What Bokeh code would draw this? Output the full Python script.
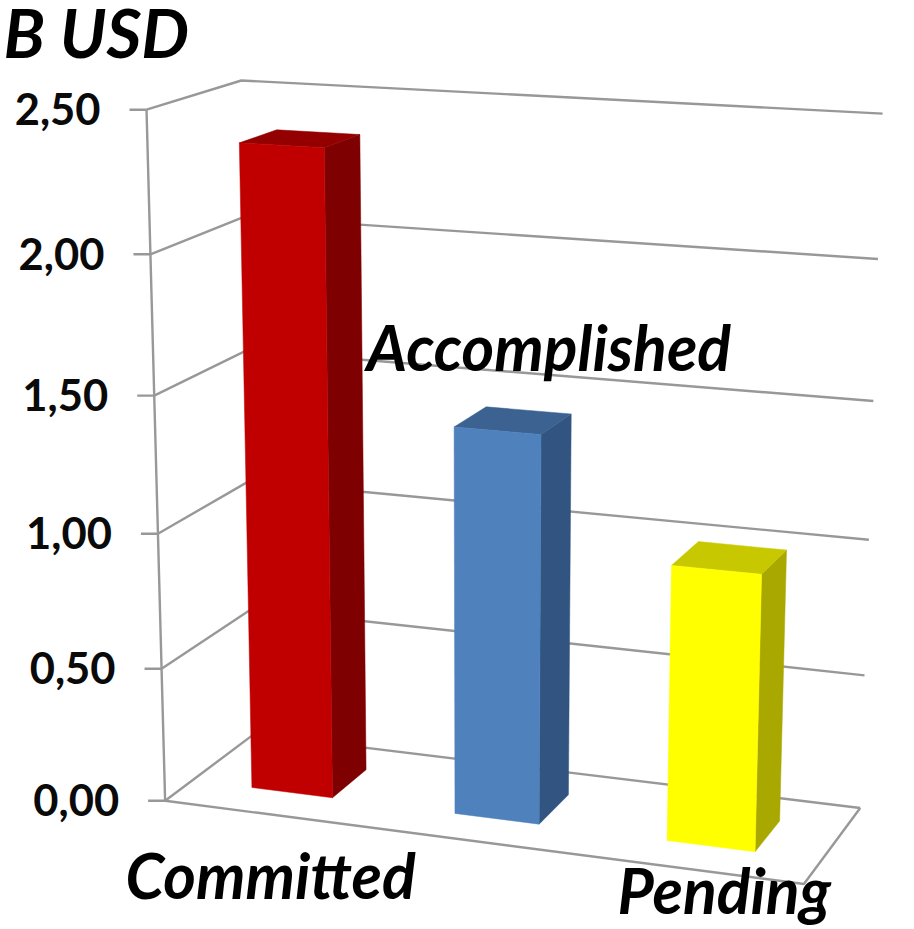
import numpy as np
from bokeh.plotting import figure
from bokeh.models import Range1d
from bokeh.core.properties import value as V
from bokeh.embed import file_html
from bokeh.resources import INLINE

categories = ["Committed", "Accomplished", "Pending"]
values = [2.365, 1.42, 1.00]
tick_values = [0.0, 0.5, 1.0, 1.5, 2.0, 2.5]
tick_labels = ["0,00", "0,50", "1,00", "1,50", "2,00", "2,50"]
front_colors = ["#C00000", "#4F81BD", "#FFFF00"]
top_colors = ["#940000", "#3B6291", "#C8C800"]
side_colors = ["#7F0000", "#325480", "#A8A800"]
title_text = "B USD"

VMAX = 2.5
# Camera: fit a projective map from (category position, depth, value) to the page
anchors = [
    ((0, 0, 0), (166, 799)), ((0, 0, 1), (145, 109)), ((0, 1, 1), (242, 80)),
    ((1, 1, 1), (882, 113)), ((1, 1, 0), (860, 806)), ((1, 0, 0), (803, 885)),
    ((0, 1, 0), (252, 735)), ((1, 1, 0.8), (877, 259)), ((1, 1, 0.4), (869, 539)),
]
A = []
for (a, b, c), (x, y) in anchors:
    A.append([a, b, c, 1, 0, 0, 0, 0, -x*a, -x*b, -x*c, -x])
    A.append([0, 0, 0, 0, a, b, c, 1, -y*a, -y*b, -y*c, -y])
H = np.linalg.svd(np.array(A, float))[2][-1].reshape(3, 4)


def project(u, d, v):
    q = H @ np.array([u, d, v / VMAX, 1.0])
    return q[0] / q[2], q[1] / q[2]


p = figure(width=914, height=929, output_backend="svg", toolbar_location=None,
           x_range=Range1d(0, 914), y_range=Range1d(929, 0), min_border=0,
           outline_line_color=None)
p.xaxis.visible = False
p.yaxis.visible = False
p.grid.visible = False

GRID = "#989898"
# Frame and gridlines
for t in tick_values:
    a, b, c = project(0, 0, t), project(0, 1, t), project(1, 1, t)
    p.line([a[0] - 17, a[0]], [a[1], a[1]], line_color=GRID, line_width=2.4)
    p.line([a[0], b[0], c[0]], [a[1], b[1], c[1]], line_color=GRID, line_width=2.4)
e0, e1 = project(0, 0, 0), project(0, 0, VMAX)
p.line([e0[0], e1[0]], [e0[1], e1[1]], line_color=GRID, line_width=2.4)
f = [project(0, 0, 0), project(1, 0, 0), project(1, 1, 0)]
p.line([q[0] for q in f], [q[1] for q in f], line_color=GRID, line_width=2.4)

# Bars
HALF_W, D0, D1 = 0.067, 0.30, 0.71
for i, val in enumerate(values):
    c = (i + 0.5) / 3
    l, r = c - HALF_W, c + HALF_W
    fb = [project(l, D0, 0), project(r, D0, 0), project(r, D0, val), project(l, D0, val)]
    tp = [project(l, D0, val), project(r, D0, val), project(r, D1, val), project(l, D1, val)]
    sd = [project(r, D0, 0), project(r, D1, 0), project(r, D1, val), project(r, D0, val)]
    for face, col in ((sd, side_colors[i]), (tp, top_colors[i]), (fb, front_colors[i])):
        p.patch([q[0] for q in face], [q[1] for q in face], fill_color=col, line_color=col, line_width=0.5)

BASE_SHIFT = 0.38  # the page sets alphabetic text this fraction of its size too low
# Tick labels
for t, lab in zip(tick_values, tick_labels):
    a = project(0, 0, t)
    p.text([a[0] - 46], [a[1] + 16 - BASE_SHIFT * 43.5], text=[lab], text_font=V("Lato"),
           text_font_style="bold", text_font_size="43.5px", text_color="#0a0a0a",
           text_align="right", text_baseline="alphabetic")

# Category labels
labels = [(categories[0], 125, 898, 62.5), (categories[1], 366, 370, 62.5), (categories[2], 617, 913, 62.5)]
for txt, x, y, size in labels:
    p.text([x], [y - BASE_SHIFT * size], text=[txt], text_font=V("Lato"), text_font_style="bold italic",
           text_font_size=f"{size}px", text_color="#000000", text_align="left", text_baseline="alphabetic")

# Title
p.text([3], [31], text=[title_text], text_font=V("Lato"), text_font_style="bold italic",
       text_font_size="67.5px", text_color="#000000", text_align="left", text_baseline="middle")

open("out.html", "w").write(file_html(p, INLINE))
